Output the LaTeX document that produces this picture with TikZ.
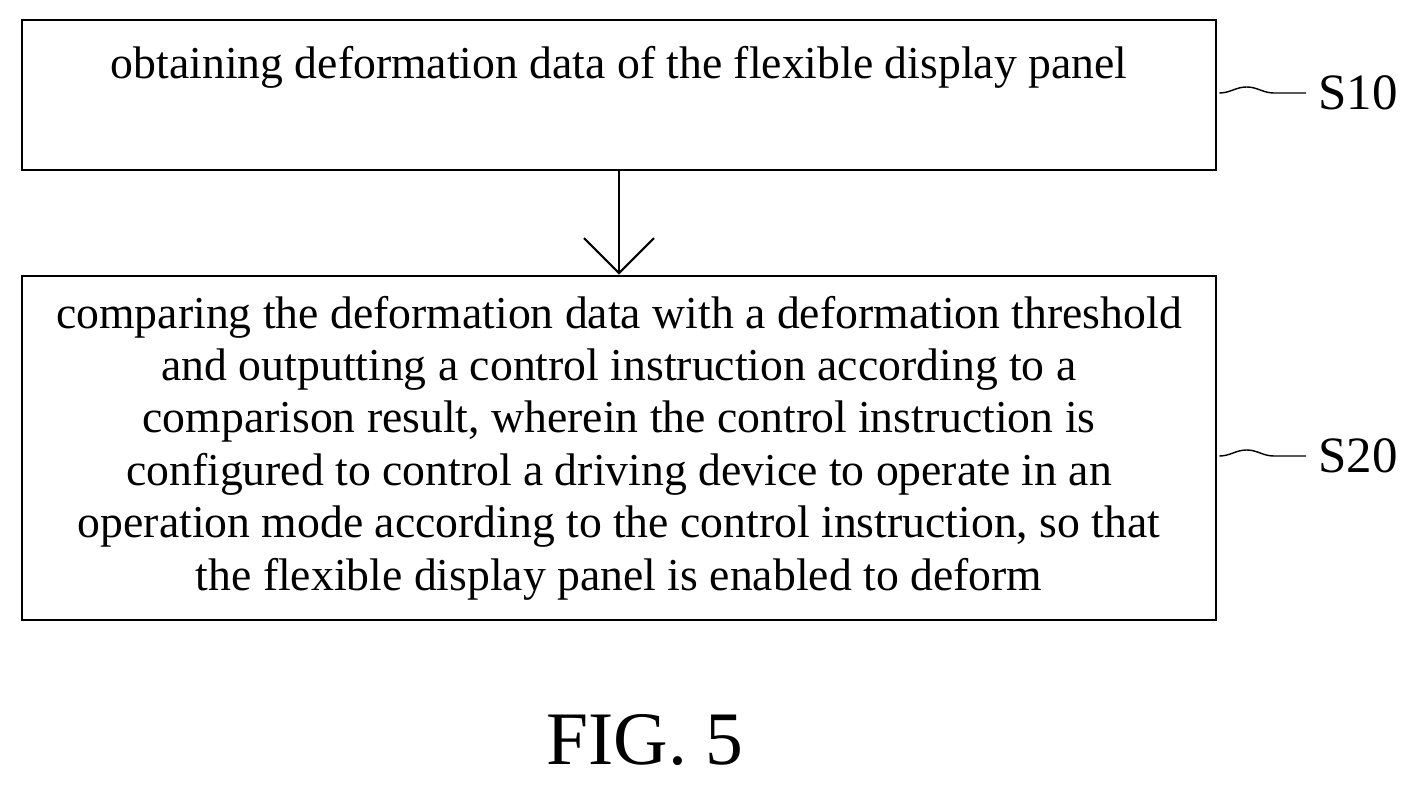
\documentclass[tikz,border=0pt]{standalone}
\usepackage{fontspec}
\setmainfont{Liberation Serif}
\usetikzlibrary{positioning,arrows.meta,decorations.pathmorphing}
\tikzset{
  stepbox/.style={draw, line width=0.8pt},
  steptext/.style={font=\fontsize{13pt}{14.9pt}\selectfont, align=center},
  fwd/.style={-{Straight Barb[length=3.5mm,width=7mm]}, line width=0.6pt},
  tag/.style={font=\fontsize{14.5pt}{16pt}\selectfont},
  squiggle/.style={decorate, decoration={snake, amplitude=0.6mm, segment length=8.7mm}},
}
\begin{document}
\begin{tikzpicture}
  \useasboundingbox (0,0) rectangle (14.24,7.85);
  \node[stepbox, minimum width=11.94cm, minimum height=1.5cm] (box1) at (6.19,6.9) {};
  \node[steptext] (text1) at (6.19,7.18) {obtaining deformation data of the flexible display panel};
  \node[stepbox, minimum width=11.94cm, minimum height=3.44cm] (box2) at (6.19,3.37) {};
  \node[steptext] (text2) at (box2.center) {comparing the deformation data with a deformation threshold\\
    and outputting a control instruction according to a\\
    comparison result, wherein the control instruction is\\
    configured to control a driving device to operate in an\\
    operation mode according to the control instruction, so that\\
    the flexible display panel is enabled to deform};
  \draw[fwd] (box1.south) -- (box2.north);
  % step tags
  \node[tag, anchor=west] (s10) at (13.06,6.92) {S10};
  \node[tag, anchor=west] (s20) at (13.06,3.29) {S20};
  \draw[squiggle] (box1.east |- s10.west) ++(0.02,0) -- (s10.west);
  \draw[squiggle] (box2.east |- s20.west) ++(0.02,0) -- (s20.west);
  \node[font=\fontsize{21.5pt}{24pt}\selectfont] (fig) at (6.45,0.45) {FIG. 5};
\end{tikzpicture}
\end{document}
